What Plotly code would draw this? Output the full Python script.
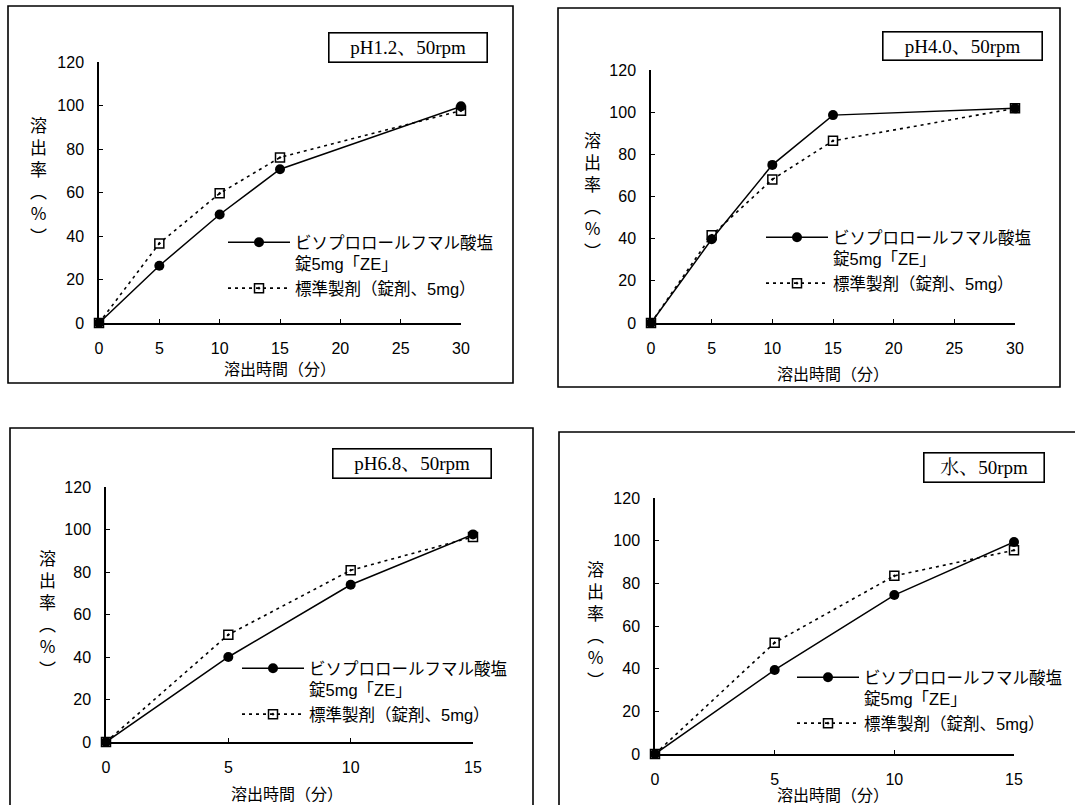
import plotly.graph_objects as go

W, H = 1075, 805

# ---- data ----
time_30 = [0, 5, 10, 15, 30]
time_15 = [0, 5, 10, 15]

ph12_test = [0, 26.3, 49.9, 70.7, 99.6]
ph12_ref = [0, 36.6, 59.6, 76.1, 97.6]

ph40_test = [0, 39.7, 75.0, 98.6, 101.8]
ph40_ref = [0, 41.6, 68.1, 86.4, 101.8]

ph68_test = [0, 40.0, 74.0, 97.7]
ph68_ref = [0, 50.5, 80.8, 96.5]

water_test = [0, 39.4, 74.5, 99.4]
water_ref = [0, 52.2, 83.5, 95.5]

panel_titles = ["pH1.2、50rpm", "pH4.0、50rpm", "pH6.8、50rpm", "水、50rpm"]
name_test = "ビソプロロールフマル酸塩<br>錠5mg「ZE」"
name_ref = "標準製剤（錠剤、5mg）"
x_title = "溶出時間（分）"
y_title = "溶<br>出<br>率<br>︵<br>%<br>︶"
y_ticks = [0, 20, 40, 60, 80, 100, 120]
x_ticks_30 = [0, 5, 10, 15, 20, 25, 30]
x_ticks_15 = [0, 5, 10, 15]

# ---- layout geometry (pixels) ----
def px(x):
    return x / W

def py(y):
    return 1 - y / H

panels = [
    dict(times=time_30, test=ph12_test, ref=ph12_ref, xt=x_ticks_30, xmax=30,
         plot=(99, 461, 62, 323), box=(8, 513, 6, 383), open_r=False, open_b=False,
         tbox=(328, 488, 32, 63), leg=(226, 225), ytit=(38, 180), xtit=(280, 368)),
    dict(times=time_30, test=ph40_test, ref=ph40_ref, xt=x_ticks_30, xmax=30,
         plot=(651, 1015, 70, 323), box=(558, 1060, 8, 387), open_r=False, open_b=False,
         tbox=(882, 1043, 31, 61), leg=(764, 220), ytit=(592, 195), xtit=(833, 373)),
    dict(times=time_15, test=ph68_test, ref=ph68_ref, xt=x_ticks_15, xmax=15,
         plot=(106, 473, 487, 742), box=(10, 533, 428, 805), open_r=False, open_b=True,
         tbox=(332, 492, 448, 479), leg=(240, 651), ytit=(47, 613), xtit=(287, 793)),
    dict(times=time_15, test=water_test, ref=water_ref, xt=x_ticks_15, xmax=15,
         plot=(655, 1014, 498, 754), box=(559, 1075, 432, 805), open_r=True, open_b=True,
         tbox=(923, 1045, 452, 483), leg=(795, 660), ytit=(595, 624), xtit=(833, 794)),
]

SANS = "Liberation Sans, Arial, Noto Sans CJK JP, sans-serif"
CJK = "Liberation Sans, Noto Sans CJK JP, sans-serif"
SERIF = "Liberation Serif, Noto Serif CJK JP, Noto Sans CJK JP, serif"

fig = go.Figure()
layout = dict(width=W, height=H, autosize=False,
              margin=dict(l=0, r=0, t=0, b=0, pad=0, autoexpand=False),
              paper_bgcolor="white", plot_bgcolor="white",
              showlegend=True)
shapes = []
annotations = []

for i, p in enumerate(panels):
    n = i + 1
    xa = "x" if n == 1 else f"x{n}"
    ya = "y" if n == 1 else f"y{n}"
    lg = "legend" if n == 1 else f"legend{n}"
    x0, x1, y0, y1 = p["plot"]

    fig.add_trace(go.Scatter(
        x=p["times"], y=p["ref"], name=name_ref, xaxis=xa, yaxis=ya, legend=lg,
        mode="lines+markers", cliponaxis=False,
        line=dict(color="black", width=1.6, dash="3px,4px"),
        marker=dict(symbol="square-open-dot", size=9, color="black",
                    line=dict(width=1.5, color="black")),
        legendrank=2))
    fig.add_trace(go.Scatter(
        x=p["times"], y=p["test"], name=name_test, xaxis=xa, yaxis=ya, legend=lg,
        mode="lines+markers", cliponaxis=False,
        line=dict(color="black", width=1.5),
        marker=dict(symbol="circle", size=10, color="black"),
        legendrank=1))

    axis_common = dict(showline=True, linecolor="black", linewidth=1.5,
                       showgrid=False, zeroline=False, ticks="inside",
                       ticklen=4, tickwidth=1, tickcolor="black",
                       tickfont=dict(family=SANS, size=16, color="black"),
                       fixedrange=True, automargin=False)
    layout["xaxis" if n == 1 else f"xaxis{n}"] = dict(
        axis_common, domain=[px(x0), px(x1)], range=[0, p["xmax"]],
        tickvals=p["xt"], anchor=ya, ticklabelstandoff=10)
    layout["yaxis" if n == 1 else f"yaxis{n}"] = dict(
        axis_common, domain=[py(y1), py(y0)], range=[0, 120],
        tickvals=y_ticks, anchor=xa, ticklabelstandoff=10)

    lx, ly = p["leg"]
    layout[lg] = dict(x=px(lx - 3), y=py(ly), xanchor="left", yanchor="top",
                      bgcolor="rgba(0,0,0,0)", borderwidth=0,
                      itemwidth=62, valign="top", tracegroupgap=0,
                      traceorder="normal",
                      font=dict(family=CJK, size=16.5, color="black"))

    # outer panel frame (open on the sides that run off the picture)
    bx0, bx1, by0, by1 = p["box"]
    X0, X1, Y0, Y1 = px(bx0), px(bx1), py(by1), py(by0)
    path = f"M{X0},{Y0} L{X0},{Y1} L{X1},{Y1}"
    if not p["open_r"]:
        path += f" L{X1},{Y0}"
        if not p["open_b"]:
            path += " Z"
    shapes.append(dict(type="path", xref="paper", yref="paper", path=path,
                       line=dict(color="black", width=1.6), layer="below"))

    tx0, tx1, ty0, ty1 = p["tbox"]
    annotations.append(dict(
        text=panel_titles[i], xref="paper", yref="paper",
        x=px((tx0 + tx1) / 2), y=py((ty0 + ty1) / 2),
        xanchor="center", yanchor="middle", showarrow=False,
        width=tx1 - tx0 - 3, height=ty1 - ty0 - 3, borderpad=0,
        bordercolor="black", borderwidth=1.6, bgcolor="white",
        font=dict(family=SERIF, size=19, color="black")))

    yx, yy = p["ytit"]
    annotations.append(dict(
        text=y_title, xref="paper", yref="paper", x=px(yx), y=py(yy),
        xanchor="center", yanchor="middle", showarrow=False,
        font=dict(family="Noto Sans CJK JP, sans-serif", size=17, color="black")))

    xx, xy = p["xtit"]
    annotations.append(dict(
        text=x_title, xref="paper", yref="paper", x=px(xx), y=py(xy),
        xanchor="center", yanchor="middle", showarrow=False,
        font=dict(family="Noto Sans CJK JP, sans-serif", size=16, color="black")))

layout["shapes"] = shapes
layout["annotations"] = annotations
fig.update_layout(**layout)
fig.write_html(
    "out.html",
    config={"displayModeBar": False},
    post_script="document.body.style.margin='0';document.body.style.overflow='hidden';"
                "document.documentElement.style.overflow='hidden';",
)
